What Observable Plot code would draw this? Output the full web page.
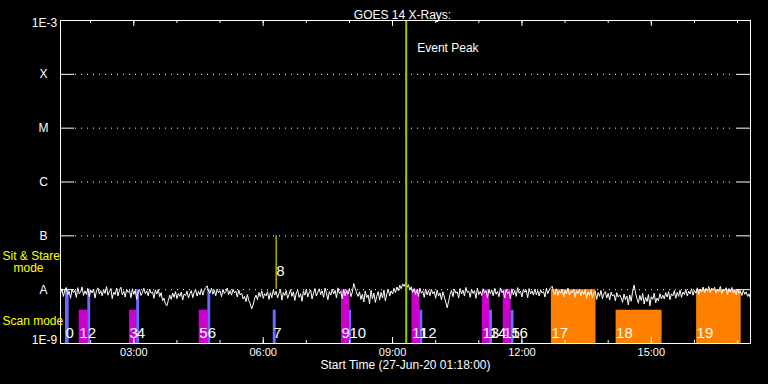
<!DOCTYPE html>
<html><head><meta charset="utf-8">
<script src="https://cdn.jsdelivr.net/npm/d3@7"></script>
<script src="https://cdn.jsdelivr.net/npm/@observablehq/plot@0.6"></script>
<style>
html,body{margin:0;padding:0;background:#000;}
#chart{width:768px;height:384px;overflow:hidden;}
</style></head><body><div id="chart"></div>
<script>
// ---------------- data ----------------
const day = "2020-06-27";
const startTime = "01:18";
const endTime = "17:18";
const fluxStepMinutes = 2;
// GOES 14 X-ray flux, units of 1e-9 W/m^2, one value every 2 minutes from 01:18
const flux = [
 8.6,10.4,7.5,9.8,11.0,8.1,9.3,6.9,10.2,8.8,9.7,7.2,10.9,8.4,9.1,11.2,7.8,9.5,8.2,10.6,7.4,9.9,8.7,10.3,7.0,9.4,10.8,8.3,9.6,7.7,
 10.1,8.5,11.4,7.9,9.2,10.5,6.8,9.0,8.1,10.7,7.6,9.8,11.1,8.0,9.4,7.3,10.2,8.9,9.6,7.1,10.4,8.2,9.7,6.6,9.3,10.0,7.8,8.8,10.6,8.4,
 9.5,7.7,10.3,8.6,9.1,6.9,9.9,8.3,10.1,7.4,8.8,6.2,7.0,5.4,5.0,6.3,7.9,6.6,8.7,7.2,9.2,6.8,8.5,7.5,9.0,6.4,8.3,7.8,9.4,7.0,
 8.4,9.6,7.1,8.9,10.0,7.6,9.3,8.0,10.4,7.9,9.8,10.9,11.8,9.4,8.6,10.6,8.2,9.9,7.7,10.3,8.8,9.5,7.4,10.1,8.5,9.2,10.7,8.1,9.6,7.9,
 10.2,8.7,9.4,7.3,9.9,8.0,8.6,6.7,7.5,6.0,8.1,6.3,5.5,4.4,5.2,6.8,7.9,6.5,8.9,7.4,9.5,6.9,8.4,7.7,9.2,6.6,8.8,7.1,9.7,8.0,
 9.3,7.0,8.5,10.1,6.4,8.9,7.8,9.6,6.9,8.2,10.0,7.5,9.1,6.3,8.7,9.8,7.2,8.4,6.1,9.4,7.9,10.3,7.3,8.8,9.9,6.7,8.6,10.5,7.6,9.0,
 10.4,8.1,9.5,7.2,10.7,8.6,6.5,9.2,7.9,10.2,8.3,9.7,7.0,10.8,8.5,9.3,6.8,10.1,7.7,9.6,8.2,10.5,7.4,9.0,13.0,10.6,8.7,7.5,9.1,6.6,
 8.2,5.9,9.4,7.1,8.0,5.5,9.7,6.8,8.6,5.8,7.5,9.2,6.4,8.9,7.0,9.8,6.2,8.4,10.1,7.6,9.5,8.3,10.6,8.8,11.2,9.6,12.1,10.4,12.8,11.5,
 13.2,11.0,12.4,9.8,11.3,8.9,10.5,8.2,9.9,7.5,10.7,8.6,9.4,7.2,10.3,8.0,9.6,7.7,10.1,8.4,9.2,6.9,9.8,7.6,8.7,6.5,9.1,7.3,5.9,4.6,
 6.1,8.2,9.7,7.4,10.3,8.6,9.1,7.0,10.5,8.3,9.8,7.6,11.0,8.9,9.4,7.2,10.2,8.5,9.6,6.9,10.7,8.1,9.3,7.8,10.4,8.7,9.5,7.1,10.0,8.4,
 9.9,7.7,10.6,8.2,9.3,7.4,10.8,8.8,9.6,7.0,10.1,8.5,9.2,6.8,10.4,8.0,9.7,7.5,10.9,8.6,9.4,7.3,10.2,8.9,9.8,7.1,10.5,8.3,9.5,7.9,
 10.3,8.1,9.6,7.6,10.0,8.7,9.2,7.3,10.6,8.4,9.9,10.8,11.6,9.1,8.0,10.4,7.8,9.5,8.6,10.1,7.4,9.7,8.3,10.7,7.9,9.3,8.8,10.2,7.2,9.6,
 8.5,10.0,7.7,9.4,8.2,9.9,6.9,9.1,7.8,9.6,7.1,8.7,9.3,6.6,8.9,7.5,9.7,6.8,8.4,9.2,7.0,8.6,6.4,9.0,7.6,8.1,6.2,8.8,7.3,8.0,
 7.1,5.8,8.3,6.5,7.6,5.2,8.0,6.1,9.4,12.2,8.7,6.9,5.6,7.8,6.3,8.5,5.4,7.2,6.0,8.1,5.0,7.4,6.6,8.6,5.7,7.0,6.2,8.4,6.8,7.9,
 6.7,8.8,7.3,9.2,6.5,8.4,7.7,9.6,6.9,8.9,7.5,9.8,7.2,9.0,8.1,10.1,7.6,9.4,8.3,10.4,7.9,9.7,8.6,10.8,8.2,10.3,9.1,11.2,8.8,10.6,
 9.5,11.4,8.9,10.7,9.8,11.1,8.6,10.2,9.3,11.5,8.4,10.0,9.6,10.9,8.1,10.5,9.0,11.0,8.7,9.9,8.0,10.3,8.5,9.4,7.8,9.7,8.2,9.1,7.5,8.4,
 6.8
];
const yTickValues = [1e-9, 1e-8, 1e-7, 1e-6, 1e-5, 1e-4, 1e-3];
const yTickLabels = ["1E-9", "A", "B", "C", "M", "X", "1E-3"];
const obsStart = ["01:25","01:44","01:56","02:54","03:04","04:31","04:43","06:14","06:18","07:49",
                  "08:00","09:27","09:38","11:05","11:15","11:34","11:45","12:41","14:11","16:03"];
const obsEnd   = ["01:30","01:56","02:00","03:04","03:08","04:43","04:47","06:18","06:18","08:00",
                  "08:03","09:38","09:42","11:15","11:19","11:45","11:49","13:43","15:15","17:05"];
const obsKind  = ["blue","magenta","blue","magenta","blue","magenta","blue","blue","yellow","magenta",
                  "blue","magenta","blue","magenta","blue","magenta","blue","orange","orange","orange"];
const obsMode  = ["stare","scan","stare","scan","stare","scan","stare","scan","event","stare",
                  "scan","stare","scan","stare","scan","stare","scan","stare","scan","stare"];
const modeTop = {stare: 1e-8, scan: 4.15e-9};
const kindColor = {blue: "#6b6bff", magenta: "#cc00cc", orange: "#ff8000", yellow: "#ffff00"};
const eventPeak = "09:19";
const title = "GOES 14 X-Rays:";

// ---------------- build ----------------
const t = s => new Date(`${day}T${s}:00Z`);
const t0 = t(startTime), t1 = t(endTime);
const fluxData = flux.map((v, i) => ({time: new Date(+t0 + i * fluxStepMinutes * 60000), value: v * 1e-9}));
const obs = obsStart.map((s, i) => ({id: String(i), start: t(s), end: t(obsEnd[i]), kind: obsKind[i], mode: obsMode[i]}));
const obsBars = obs.filter(d => d.mode !== "event");
const obsLines = obs.filter(d => d.mode === "event");
const minorHours = d3.utcHour.every(1).range(t0, t1);
const majorHours = d3.utcHour.every(3).range(t0, t1);

const W = 768, H = 384, mL = 60, mR = 18, mT = 20, mB = 41;
const pw = W - mL - mR, ph = H - mT - mB;
const font = "Liberation Sans, Arial, sans-serif";

const chart = Plot.plot({
  width: W, height: H,
  marginLeft: mL, marginRight: mR, marginTop: mT, marginBottom: mB,
  style: {background: "#000", color: "#fff", fontFamily: font, fontSize: "12px", overflow: "visible"},
  x: {type: "utc", domain: [t0, t1], axis: null},
  y: {type: "log", domain: [1e-9, 1e-3], axis: null},
  marks: [
    Plot.rectY(obsBars, {x1: "start", x2: "end", y1: 1e-9, y2: d => modeTop[d.mode], fill: d => kindColor[d.kind]}),
    Plot.ruleX(obsLines, {x: "start", y1: 1e-8, y2: 1e-7, stroke: d => kindColor[d.kind], strokeWidth: 1}),
    Plot.ruleY(yTickValues.slice(1, -1), {stroke: "#fff", strokeDasharray: "1,5", insetLeft: 15, insetRight: 15}),
    Plot.tickY(yTickValues, {stroke: "#fff", insetRight: pw - 14}),
    Plot.tickY(yTickValues, {stroke: "#fff", insetLeft: pw - 14}),
    Plot.tickX(minorHours, {stroke: "#fff", insetTop: ph - 3}),
    Plot.tickX(minorHours, {stroke: "#fff", insetBottom: ph - 3}),
    Plot.tickX(majorHours, {stroke: "#fff", insetTop: ph - 6}),
    Plot.tickX(majorHours, {stroke: "#fff", insetBottom: ph - 6}),
    Plot.lineY(fluxData, {x: "time", y: "value", stroke: "#fff", strokeWidth: 1}),
    Plot.ruleX([t(eventPeak)], {stroke: "#99cc00", strokeWidth: 2}),
    Plot.text([t(eventPeak)], {x: d => d, frameAnchor: "top", dx: 11, dy: 23, text: () => "Event Peak", textAnchor: "start", fill: "#fff", fontSize: 12}),
    Plot.text(obsBars, {x: "start", y: 1e-9, dy: -10.5, text: "id", textAnchor: "start", fill: "#fff", fontSize: 15}),
    Plot.text(obsLines, {x: "start", y: 1e-8, dy: -18, text: "id", textAnchor: "start", fill: "#fff", fontSize: 15}),
    Plot.frame({stroke: "#fff"}),
    // axis labels
    Plot.text(majorHours, {x: d => d, frameAnchor: "bottom", dy: 12, text: d => d3.utcFormat("%H:%M")(d), fill: "#fff", fontSize: 11}),
    Plot.text(yTickValues.slice(1, -1), {y: d => d, frameAnchor: "left", dx: -17, textAnchor: "middle", text: d => yTickLabels[yTickValues.indexOf(d)], fill: "#fff", fontSize: 12}),
    Plot.text([yTickValues[0]], {y: d => d, frameAnchor: "left", dx: -16, dy: -3, textAnchor: "middle", text: d => yTickLabels[0], fill: "#fff", fontSize: 12}),
    Plot.text([yTickValues[6]], {y: d => d, frameAnchor: "left", dx: -16, dy: 3, textAnchor: "middle", text: d => yTickLabels[6], fill: "#fff", fontSize: 12}),
    Plot.text([title], {frameAnchor: "top", dx: -3, dy: -10, text: d => d, fill: "#fff", fontSize: 12}),
    Plot.text([`Start Time (${d3.utcFormat("%d-%b-%y %H:%M:%S")(t0)})`], {frameAnchor: "bottom", dy: 25, text: d => d, fill: "#fff", fontSize: 12}),
    Plot.text(["Sit & Stare"], {frameAnchor: "bottom-left", dx: -58, dy: -84, text: d => d, textAnchor: "start", fill: "#ffff00", fontSize: 12}),
    Plot.text(["mode"], {frameAnchor: "bottom-left", dx: -47, dy: -72, text: d => d, textAnchor: "start", fill: "#ffff00", fontSize: 12}),
    Plot.text(["Scan mode"], {frameAnchor: "bottom-left", dx: -58, dy: -19, text: d => d, textAnchor: "start", fill: "#ffff00", fontSize: 12})
  ]
});
document.getElementById("chart").appendChild(chart);
</script>
</body></html>
